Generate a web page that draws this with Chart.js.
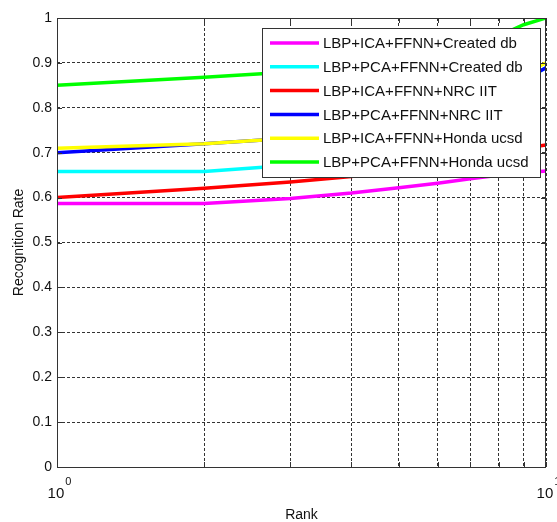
<!DOCTYPE html>
<html>
<head>
<meta charset="utf-8">
<script src="https://cdn.jsdelivr.net/npm/chart.js@4/dist/chart.umd.min.js"></script>
<style>
    html, body { margin: 0; padding: 0; background: #fff; }
</style>
</head>
<body>
<canvas id="rankChart" width="557" height="522"></canvas>
<script>
// Recognition rate vs rank (log x axis)
var ranks = [1, 2, 3, 4, 5, 6, 7, 8, 9, 10];

var icaCreated = [0.587, 0.587, 0.598, 0.610, 0.622, 0.632, 0.642, 0.650, 0.655, 0.659];
var pcaCreated = [0.658, 0.658, 0.672, 0.690, 0.720, 0.760, 0.800, 0.835, 0.862, 0.889];
var icaNrc     = [0.600, 0.621, 0.635, 0.647, 0.660, 0.673, 0.686, 0.700, 0.710, 0.717];
var pcaNrc     = [0.700, 0.720, 0.732, 0.750, 0.775, 0.800, 0.825, 0.845, 0.862, 0.889];
var icaHonda   = [0.710, 0.720, 0.732, 0.750, 0.770, 0.795, 0.825, 0.850, 0.875, 0.900];
var pcaHonda   = [0.850, 0.868, 0.880, 0.890, 0.900, 0.915, 0.930, 0.960, 0.985, 1.000];

var seriesLabels = [
    'LBP+ICA+FFNN+Created db',
    'LBP+PCA+FFNN+Created db',
    'LBP+ICA+FFNN+NRC IIT',
    'LBP+PCA+FFNN+NRC IIT',
    'LBP+ICA+FFNN+Honda ucsd',
    'LBP+PCA+FFNN+Honda ucsd'
];
var seriesColors = ['#ff00ff', '#00ffff', '#ff0000', '#0000ff', '#ffff00', '#00ff00'];

var yTickLabels = ['0', '0.1', '0.2', '0.3', '0.4', '0.5', '0.6', '0.7', '0.8', '0.9', '1'];
var xTickValues = [1, 10];
var xTickExponents = ['0', '1'];

var FONT = "'Liberation Sans', Arial, sans-serif";

function toPoints(values) {
    return ranks.map(function(r, i) { return { x: r, y: values[i] }; });
}

/**
 * Box, inward ticks, 10^n labels and the legend drawn inside the axes
 */
var frameAndLegend = {
    id: 'frameAndLegend',
    afterDatasetsDraw: function(chart) {
        var ctx = chart.ctx;
        var a = chart.chartArea;
        var xs = chart.scales.x;
        var ys = chart.scales.y;

        ctx.save();
        ctx.strokeStyle = '#333';
        ctx.lineWidth = 1;
        ctx.beginPath();
        yTickLabels.forEach(function(lbl, i) {
            var py = Math.round(ys.getPixelForValue(i / 10)) + 0.5;
            ctx.moveTo(a.left, py); ctx.lineTo(a.left + 5, py);
            ctx.moveTo(a.right, py); ctx.lineTo(a.right - 5, py);
        });
        ranks.forEach(function(r) {
            var px = Math.round(xs.getPixelForValue(r)) + 0.5;
            ctx.moveTo(px, a.bottom); ctx.lineTo(px, a.bottom - 5);
            ctx.moveTo(px, a.top); ctx.lineTo(px, a.top + 5);
        });
        ctx.stroke();
        ctx.strokeRect(a.left + 0.5, a.top + 0.5, a.right - a.left - 1, a.bottom - a.top);

        // 10^0 and 10^1 labels
        ctx.fillStyle = '#111';
        ctx.textBaseline = 'alphabetic';
        xTickValues.forEach(function(v, i) {
            var px = xs.getPixelForValue(v) + 2;
            ctx.font = '15px ' + FONT;
            var wBase = ctx.measureText('10').width;
            ctx.font = '11px ' + FONT;
            var wExp = ctx.measureText(xTickExponents[i]).width;
            var x0 = px - (wBase + wExp) / 2;
            ctx.font = '15px ' + FONT;
            ctx.textAlign = 'left';
            ctx.fillText('10', x0, a.bottom + 31);
            ctx.font = '11px ' + FONT;
            ctx.fillText(xTickExponents[i], x0 + wBase + 1, a.bottom + 18);
        });

        // legend box
        var lx = 262, ly = 28, lw = 278, lh = 149;
        ctx.fillStyle = '#fff';
        ctx.fillRect(lx, ly, lw, lh);
        ctx.strokeStyle = '#333';
        ctx.lineWidth = 1;
        ctx.strokeRect(lx + 0.5, ly + 0.5, lw, lh);
        ctx.font = '15px ' + FONT;
        ctx.textAlign = 'left';
        ctx.textBaseline = 'middle';
        chart.data.datasets.forEach(function(ds, i) {
            var ry = ly + 15 + i * 23.8;
            ctx.strokeStyle = ds.borderColor;
            ctx.lineWidth = 3.5;
            ctx.beginPath();
            ctx.moveTo(lx + 8, ry);
            ctx.lineTo(lx + 57, ry);
            ctx.stroke();
            ctx.fillStyle = '#111';
            ctx.fillText(ds.label, lx + 61, ry + 1);
        });
        ctx.restore();
    }
};

var ctx = document.getElementById('rankChart');

new Chart(ctx, {
    type: 'line',
    data: {
        datasets: [icaCreated, pcaCreated, icaNrc, pcaNrc, icaHonda, pcaHonda].map(function(vals, i) {
            return {
                label: seriesLabels[i],
                data: toPoints(vals),
                borderColor: seriesColors[i],
                backgroundColor: seriesColors[i],
                borderWidth: 3.5,
                pointRadius: 0,
                tension: 0,
                fill: false,
                // later series drawn on top, like the original plot
                order: seriesLabels.length - i
            };
        })
    },
    options: {
        responsive: false,
        animation: false,
        layout: {
            padding: { top: 18, right: 11, bottom: 0, left: 0 }
        },
        plugins: {
            legend: { display: false },
            tooltip: { enabled: false }
        },
        scales: {
            x: {
                type: 'logarithmic',
                min: 1,
                max: 10,
                afterBuildTicks: function(scale) {
                    scale.ticks = ranks.map(function(r) { return { value: r }; });
                },
                afterFit: function(scale) { scale.height = 55; },
                ticks: { display: false, autoSkip: false },
                grid: { color: '#333', lineWidth: 1, drawTicks: false },
                border: { display: false, dash: [3, 2] },
                title: {
                    display: true,
                    text: 'Rank',
                    color: '#111',
                    font: { family: FONT, size: 14 },
                    padding: { top: 0, bottom: -2 }
                }
            },
            y: {
                min: 0,
                max: 1,
                afterFit: function(scale) { scale.width = 57; },
                ticks: {
                    stepSize: 0.1,
                    padding: 5,
                    color: '#111',
                    font: { family: FONT, size: 14 },
                    callback: function(value, index) { return yTickLabels[index]; }
                },
                grid: { color: '#333', lineWidth: 1, drawTicks: false },
                border: { display: false, dash: [3, 2] },
                title: {
                    display: true,
                    text: 'Recognition Rate',
                    color: '#111',
                    font: { family: FONT, size: 14 },
                    padding: { top: 11, bottom: 0 }
                }
            }
        }
    },
    plugins: [frameAndLegend]
});
</script>
</body>
</html>
